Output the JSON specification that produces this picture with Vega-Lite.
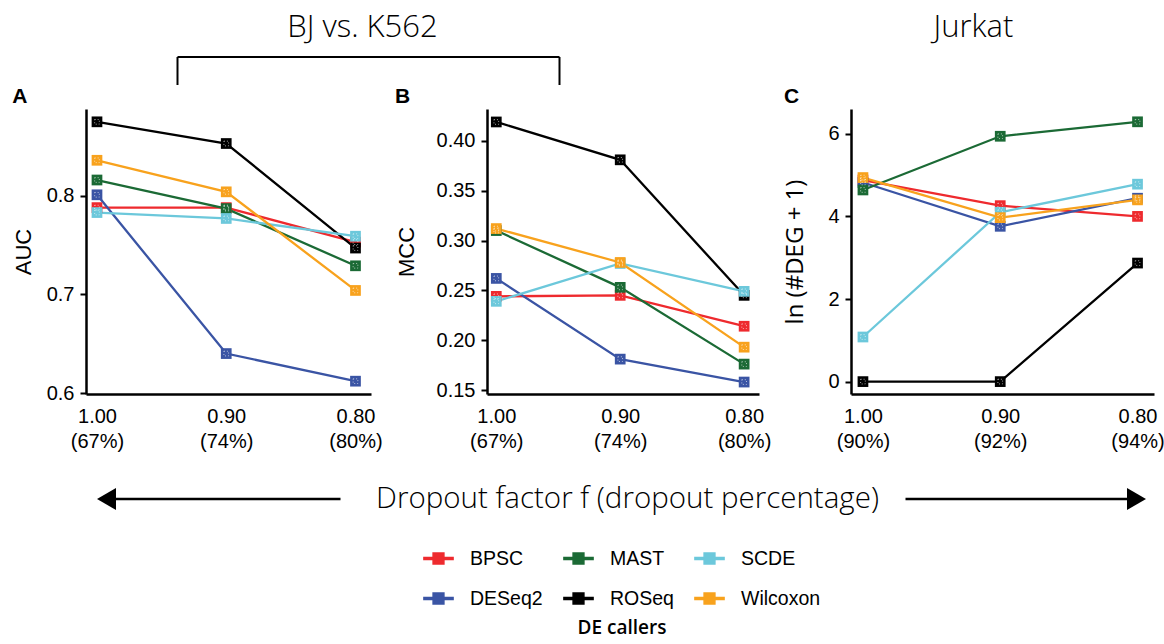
{
  "$schema": "https://vega.github.io/schema/vega-lite/v6.json",
  "padding": {"left": 12, "top": 0, "right": 0, "bottom": 20},
  "background": "white",
  "datasets": {
    "d": [
      {"panel": "A", "method": "BPSC", "f": 1.0, "value": 0.788},
      {"panel": "A", "method": "BPSC", "f": 0.9, "value": 0.788},
      {"panel": "A", "method": "BPSC", "f": 0.8, "value": 0.753},
      {"panel": "A", "method": "DESeq2", "f": 1.0, "value": 0.801},
      {"panel": "A", "method": "DESeq2", "f": 0.9, "value": 0.640},
      {"panel": "A", "method": "DESeq2", "f": 0.8, "value": 0.612},
      {"panel": "A", "method": "MAST", "f": 1.0, "value": 0.816},
      {"panel": "A", "method": "MAST", "f": 0.9, "value": 0.787},
      {"panel": "A", "method": "MAST", "f": 0.8, "value": 0.729},
      {"panel": "A", "method": "ROSeq", "f": 1.0, "value": 0.875},
      {"panel": "A", "method": "ROSeq", "f": 0.9, "value": 0.853},
      {"panel": "A", "method": "ROSeq", "f": 0.8, "value": 0.747},
      {"panel": "A", "method": "SCDE", "f": 1.0, "value": 0.783},
      {"panel": "A", "method": "SCDE", "f": 0.9, "value": 0.777},
      {"panel": "A", "method": "SCDE", "f": 0.8, "value": 0.759},
      {"panel": "A", "method": "Wilcoxon", "f": 1.0, "value": 0.836},
      {"panel": "A", "method": "Wilcoxon", "f": 0.9, "value": 0.804},
      {"panel": "A", "method": "Wilcoxon", "f": 0.8, "value": 0.704},
      {"panel": "B", "method": "BPSC", "f": 1.0, "value": 0.244},
      {"panel": "B", "method": "BPSC", "f": 0.9, "value": 0.245},
      {"panel": "B", "method": "BPSC", "f": 0.8, "value": 0.214},
      {"panel": "B", "method": "DESeq2", "f": 1.0, "value": 0.262},
      {"panel": "B", "method": "DESeq2", "f": 0.9, "value": 0.181},
      {"panel": "B", "method": "DESeq2", "f": 0.8, "value": 0.158},
      {"panel": "B", "method": "MAST", "f": 1.0, "value": 0.310},
      {"panel": "B", "method": "MAST", "f": 0.9, "value": 0.253},
      {"panel": "B", "method": "MAST", "f": 0.8, "value": 0.176},
      {"panel": "B", "method": "ROSeq", "f": 1.0, "value": 0.419},
      {"panel": "B", "method": "ROSeq", "f": 0.9, "value": 0.381},
      {"panel": "B", "method": "ROSeq", "f": 0.8, "value": 0.245},
      {"panel": "B", "method": "SCDE", "f": 1.0, "value": 0.239},
      {"panel": "B", "method": "SCDE", "f": 0.9, "value": 0.277},
      {"panel": "B", "method": "SCDE", "f": 0.8, "value": 0.249},
      {"panel": "B", "method": "Wilcoxon", "f": 1.0, "value": 0.312},
      {"panel": "B", "method": "Wilcoxon", "f": 0.9, "value": 0.278},
      {"panel": "B", "method": "Wilcoxon", "f": 0.8, "value": 0.193},
      {"panel": "C", "method": "BPSC", "f": 1.0, "value": 4.88},
      {"panel": "C", "method": "BPSC", "f": 0.9, "value": 4.26},
      {"panel": "C", "method": "BPSC", "f": 0.8, "value": 4.00},
      {"panel": "C", "method": "DESeq2", "f": 1.0, "value": 4.82},
      {"panel": "C", "method": "DESeq2", "f": 0.9, "value": 3.76},
      {"panel": "C", "method": "DESeq2", "f": 0.8, "value": 4.44},
      {"panel": "C", "method": "MAST", "f": 1.0, "value": 4.64},
      {"panel": "C", "method": "MAST", "f": 0.9, "value": 5.94},
      {"panel": "C", "method": "MAST", "f": 0.8, "value": 6.29},
      {"panel": "C", "method": "ROSeq", "f": 1.0, "value": 0.0},
      {"panel": "C", "method": "ROSeq", "f": 0.9, "value": 0.0},
      {"panel": "C", "method": "ROSeq", "f": 0.8, "value": 2.87},
      {"panel": "C", "method": "SCDE", "f": 1.0, "value": 1.08},
      {"panel": "C", "method": "SCDE", "f": 0.9, "value": 4.10},
      {"panel": "C", "method": "SCDE", "f": 0.8, "value": 4.78},
      {"panel": "C", "method": "Wilcoxon", "f": 1.0, "value": 4.94},
      {"panel": "C", "method": "Wilcoxon", "f": 0.9, "value": 3.97},
      {"panel": "C", "method": "Wilcoxon", "f": 0.8, "value": 4.40}
    ],
    "top": [
      {"kind": "text", "label": "BJ vs. K562", "x": 362, "y": 28},
      {"kind": "text", "label": "Jurkat", "x": 973, "y": 28},
      {"kind": "rule", "x": 177, "x2": 559, "y": 57, "y2": 57},
      {"kind": "rule", "x": 177, "x2": 177, "y": 57, "y2": 85},
      {"kind": "rule", "x": 559, "x2": 559, "y": 57, "y2": 85}
    ],
    "bottom": [
      {"kind": "text", "label": "Dropout factor f (dropout percentage)", "x": 627, "y": 48},
      {"kind": "rule", "x": 112, "x2": 340, "y": 48, "y2": 48},
      {"kind": "rule", "x": 905, "x2": 1130, "y": 48, "y2": 48},
      {"kind": "left", "x": 106, "y": 48},
      {"kind": "right", "x": 1136, "y": 48}
    ]
  },
  "vconcat": [
    {
      "width": 1070,
      "height": 86,
      "data": {"name": "top"},
      "encoding": {
        "x": {"field": "x", "type": "quantitative", "scale": {"domain": [85.5, 1155.5], "nice": false, "zero": false}, "axis": null},
        "y": {"field": "y", "type": "quantitative", "scale": {"domain": [0, 86], "reverse": true, "nice": false, "zero": false}, "axis": null}
      },
      "layer": [
        {"transform": [{"filter": "datum.kind == 'text'"}],
         "mark": {"type": "text", "font": "Open Sans", "fontSize": 31, "fontWeight": 300, "color": "black", "align": "center", "baseline": "middle"},
         "encoding": {"text": {"field": "label"}}},
        {"transform": [{"filter": "datum.kind == 'rule'"}],
         "mark": {"type": "rule", "color": "black", "strokeWidth": 2},
         "encoding": {"x2": {"field": "x2"}, "y2": {"field": "y2"}}}
      ]
    },
    {
      "hconcat": [
        {
          "width": 285, "height": 285,
          "title": {"text": "A"},
          "data": {"name": "d"},
          "transform": [{"filter": "datum.panel == 'A'"}],
          "encoding": {
            "x": {"field": "f", "type": "quantitative",
                  "scale": {"domain": [0.788, 1.0085], "reverse": true, "nice": false, "zero": false},
                  "axis": {"values": [1, 0.9, 0.8], "title": null, "ticks": false,
                           "labelExpr": "[format(datum.value, '.2f'), datum.value > 0.95 ? '(67%)' : datum.value > 0.85 ? '(74%)' : '(80%)']"}},
            "y": {"field": "value", "type": "quantitative",
                  "scale": {"domain": [0.599, 0.888], "nice": false, "zero": false},
                  "axis": {"values": [0.6, 0.7, 0.8], "format": ".1f", "title": "AUC", "titlePadding": 11}},
            "color": {"field": "method", "type": "nominal",
                      "scale": {"domain": ["BPSC", "MAST", "SCDE", "DESeq2", "ROSeq", "Wilcoxon"],
                                "range": ["#EE2A2E", "#1B6A35", "#6CC8DB", "#3A54A4", "#000000", "#F8A21D"]},
                      "legend": {"title": "DE callers"}}
          },
          "layer": [
            {"mark": {"type": "line", "strokeWidth": 2.3}},
            {"mark": {"type": "point", "shape": "square", "filled": true, "size": 115, "opacity": 1}},
            {"mark": {"type": "point", "shape": "square", "filled": false, "size": 22, "strokeWidth": 0.8, "strokeDash": [1, 2], "opacity": 0.8},
             "encoding": {"color": {"value": "white"}}}
          ]
        },
        {
          "width": 272, "height": 285,
          "title": {"text": "B"},
          "data": {"name": "d"},
          "transform": [{"filter": "datum.panel == 'B'"}],
          "encoding": {
            "x": {"field": "f", "type": "quantitative",
                  "scale": {"domain": [0.788, 1.0075], "reverse": true, "nice": false, "zero": false},
                  "axis": {"values": [1, 0.9, 0.8], "title": null, "ticks": false,
                           "labelExpr": "[format(datum.value, '.2f'), datum.value > 0.95 ? '(67%)' : datum.value > 0.85 ? '(74%)' : '(80%)']"}},
            "y": {"field": "value", "type": "quantitative",
                  "scale": {"domain": [0.146, 0.432], "nice": false, "zero": false},
                  "axis": {"values": [0.15, 0.2, 0.25, 0.3, 0.35, 0.4], "format": ".2f", "title": "MCC", "titlePadding": 18}},
            "color": {"field": "method", "type": "nominal",
                      "scale": {"domain": ["BPSC", "MAST", "SCDE", "DESeq2", "ROSeq", "Wilcoxon"],
                                "range": ["#EE2A2E", "#1B6A35", "#6CC8DB", "#3A54A4", "#000000", "#F8A21D"]},
                      "legend": {"title": "DE callers"}}
          },
          "layer": [
            {"mark": {"type": "line", "strokeWidth": 2.3}},
            {"mark": {"type": "point", "shape": "square", "filled": true, "size": 115, "opacity": 1}},
            {"mark": {"type": "point", "shape": "square", "filled": false, "size": 22, "strokeWidth": 0.8, "strokeDash": [1, 2], "opacity": 0.8},
             "encoding": {"color": {"value": "white"}}}
          ]
        },
        {
          "width": 303, "height": 285,
          "title": {"text": "C"},
          "data": {"name": "d"},
          "transform": [{"filter": "datum.panel == 'C'"}],
          "encoding": {
            "x": {"field": "f", "type": "quantitative",
                  "scale": {"domain": [0.788, 1.0087], "reverse": true, "nice": false, "zero": false},
                  "axis": {"values": [1, 0.9, 0.8], "title": null, "ticks": false,
                           "labelExpr": "[format(datum.value, '.2f'), datum.value > 0.95 ? '(90%)' : datum.value > 0.85 ? '(92%)' : '(94%)']"}},
            "y": {"field": "value", "type": "quantitative",
                  "scale": {"domain": [-0.3, 6.6], "nice": false, "zero": false},
                  "axis": {"values": [0, 2, 4, 6], "format": "d", "title": "ln (#DEG + 1)", "titlePadding": 20, "titleFont": "Open Sans", "titleFontSize": 24}},
            "color": {"field": "method", "type": "nominal",
                      "scale": {"domain": ["BPSC", "MAST", "SCDE", "DESeq2", "ROSeq", "Wilcoxon"],
                                "range": ["#EE2A2E", "#1B6A35", "#6CC8DB", "#3A54A4", "#000000", "#F8A21D"]},
                      "legend": {"title": "DE callers"}}
          },
          "layer": [
            {"mark": {"type": "line", "strokeWidth": 2.3}},
            {"mark": {"type": "point", "shape": "square", "filled": true, "size": 115, "opacity": 1}},
            {"mark": {"type": "point", "shape": "square", "filled": false, "size": 22, "strokeWidth": 0.8, "strokeDash": [1, 2], "opacity": 0.8},
             "encoding": {"color": {"value": "white"}}}
          ]
        }
      ],
      "spacing": 12
    },
    {
      "width": 1070,
      "height": 80,
      "data": {"name": "bottom"},
      "encoding": {
        "x": {"field": "x", "type": "quantitative", "scale": {"domain": [85.5, 1155.5], "nice": false, "zero": false}, "axis": null},
        "y": {"field": "y", "type": "quantitative", "scale": {"domain": [0, 80], "reverse": true, "nice": false, "zero": false}, "axis": null}
      },
      "layer": [
        {"transform": [{"filter": "datum.kind == 'text'"}],
         "mark": {"type": "text", "font": "Open Sans", "fontSize": 29.5, "fontWeight": 300, "color": "black", "align": "center", "baseline": "middle"},
         "encoding": {"text": {"field": "label"}}},
        {"transform": [{"filter": "datum.kind == 'rule'"}],
         "mark": {"type": "rule", "color": "black", "strokeWidth": 2.5},
         "encoding": {"x2": {"field": "x2"}, "y2": {"field": "y2"}}},
        {"transform": [{"filter": "datum.kind == 'left'"}],
         "mark": {"type": "point", "shape": "triangle-left", "filled": true, "color": "black", "size": 480, "opacity": 1}},
        {"transform": [{"filter": "datum.kind == 'right'"}],
         "mark": {"type": "point", "shape": "triangle-right", "filled": true, "color": "black", "size": 480, "opacity": 1}}
      ]
    }
  ],
  "spacing": 0,
  "resolve": {"scale": {"color": "shared"}, "legend": {"color": "shared"}},
  "config": {
    "view": {"stroke": null},
    "title": {"font": "Liberation Sans", "fontSize": 21, "fontWeight": "bold", "anchor": "start", "frame": "bounds", "color": "black", "offset": 2},
    "axis": {"grid": false, "domainColor": "black", "domainWidth": 2.5, "tickColor": "black", "tickWidth": 2, "tickSize": 6,
             "labelFont": "Liberation Sans", "labelFontSize": 20, "labelColor": "black", "labelPadding": 6, "labelLineHeight": 25,
             "titleFont": "Liberation Sans", "titleFontSize": 22, "titleFontWeight": "normal", "titleColor": "black"},
    "axisX": {"labelPadding": 12},
    "legend": {
      "orient": "none", "legendX": 337, "legendY": 543,
      "columns": 3, "direction": "horizontal",
      "titleOrient": "bottom", "titleAnchor": "middle", "titleFont": "Open Sans", "titleFontSize": 19, "titleFontWeight": 600, "titleColor": "black", "titlePadding": 11,
      "labelFont": "Liberation Sans", "labelFontSize": 19.5, "labelColor": "black", "labelOffset": 16,
      "symbolType": "M-1,-0.07H1V0.07H-1Z M-0.37,-0.37H0.37V0.37H-0.37Z",
      "symbolSize": 850, "symbolStrokeWidth": 1.5, "symbolOpacity": 1,
      "rowPadding": 15, "columnPadding": 17
    }
  }
}
